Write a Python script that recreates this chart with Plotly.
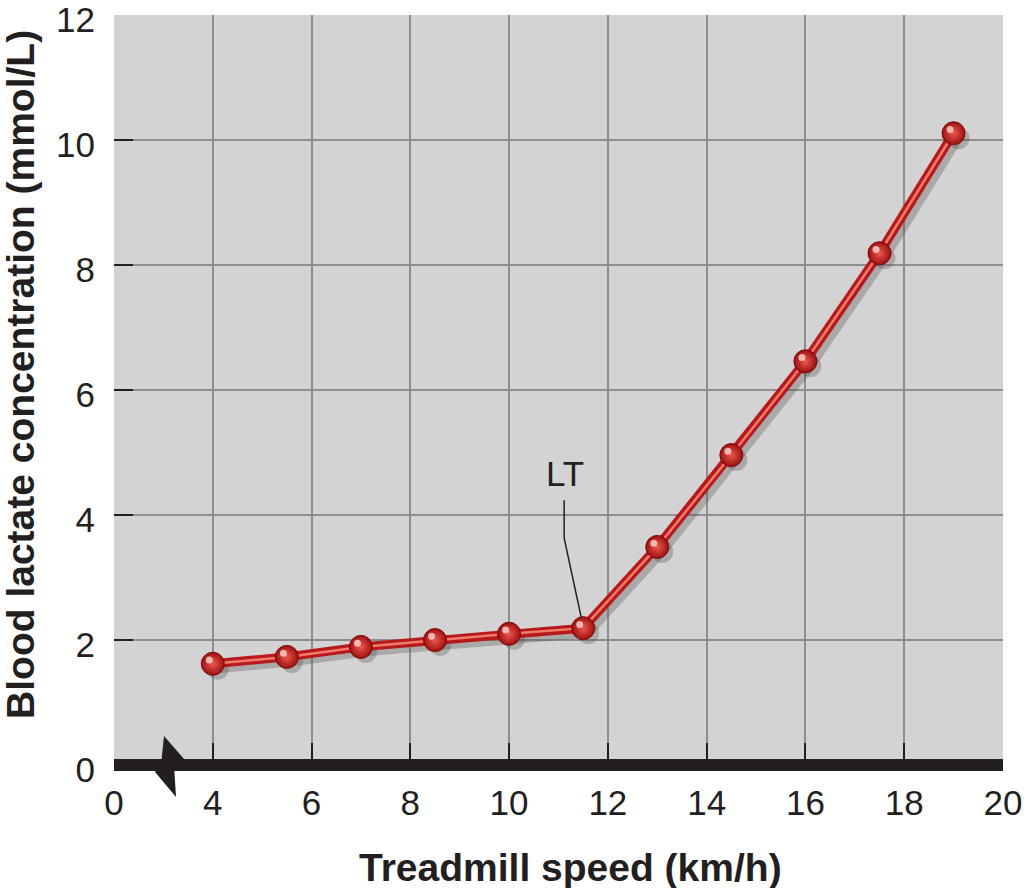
import numpy as np
import plotly.graph_objects as go

# --- data ---
speed = [4, 5.5, 7, 8.5, 10, 11.5, 13, 14.5, 16, 17.5, 19]          # km/h
lactate = [1.62, 1.73, 1.89, 2.0, 2.1, 2.19, 3.49, 4.96, 6.46, 8.19, 10.11]  # mmol/L
x_ticks = [0, 4, 6, 8, 10, 12, 14, 16, 18, 20]
y_ticks = [0, 2, 4, 6, 8, 10, 12]
lt_speed = 11.5
lt_lactate = 2.19


def brk(v):
    # broken x axis: 0..4 squeezed to 0..2, then linear
    v = np.asarray(v, dtype=float)
    return np.where(v >= 4, v - 2, v / 2)


xv = brk(speed)
yv = np.array(lactate)

INK = "#231f20"
FONT = "Liberation Sans, Arial, Helvetica, sans-serif"

fig = go.Figure()

# soft drop shadow (same points nudged right / down)
fig.add_trace(go.Scatter(
    x=xv + 0.1, y=yv - 0.08, mode="lines+markers",
    line=dict(color="rgba(80,80,80,0.32)", width=9),
    marker=dict(size=22, color="rgba(80,80,80,0.32)"),
    hoverinfo="skip"
))
# main red tube
fig.add_trace(go.Scatter(
    x=xv, y=yv, mode="lines",
    line=dict(color="#b8191b", width=9),
    hoverinfo="skip"
))
fig.add_trace(go.Scatter(
    x=xv, y=yv, mode="lines",
    line=dict(color="#f27b6b", width=2.5),
    hoverinfo="skip"
))
# spheres
fig.add_trace(go.Scatter(
    x=xv, y=yv, mode="markers",
    marker=dict(size=23, color="#9e0f10",
                gradient=dict(type="radial", color="#ec5a4e"),
                line=dict(color="#7a0a0b", width=1)),
    name="Blood lactate"
))
# little specular highlight on each sphere
fig.add_trace(go.Scatter(
    x=xv - 0.07, y=yv + 0.06, mode="markers",
    marker=dict(size=7, color="rgba(255,225,220,0.75)", line=dict(width=0)),
    hoverinfo="skip"
))

# LT label + bent leader line
fig.add_annotation(x=brk(lt_speed).item(), y=lt_lactate, text="LT", showarrow=False,
                   xshift=-18, yshift=155, font=dict(family=FONT, size=35, color=INK))
fig.add_shape(type="path", xref="x", yref="y",
              xsizemode="pixel", ysizemode="pixel",
              xanchor=brk(lt_speed).item(), yanchor=lt_lactate,
              path="M-19,128 L-19,90 L-2,11",
              line=dict(color=INK, width=1.5))

# thick baseline and axis-break mark
fig.add_shape(type="rect", xref="paper", yref="paper", ysizemode="pixel",
              x0=0, x1=1, yanchor=0, y0=-6, y1=6,
              fillcolor=INK, line=dict(width=0))
fig.add_shape(type="path", xref="paper", yref="paper",
              xsizemode="pixel", ysizemode="pixel",
              xanchor=0.063, yanchor=0,
              path="M-6,29 L14,6 L4,0 L6,-32 L-15,-7 L-9,0 Z",
              fillcolor=INK, line=dict(width=0))

# axis titles
fig.add_annotation(x=0.513, y=-0.137, xref="paper", yref="paper",
                   xanchor="center", yanchor="middle",
                   text="<b>Treadmill speed (km/h)</b>", showarrow=False,
                   font=dict(family=FONT, size=39, color=INK))
fig.add_annotation(x=-0.105, y=0.521, xref="paper", yref="paper",
                   xanchor="center", yanchor="middle",
                   text="<b>Blood lactate concentration (mmol/L)</b>", showarrow=False,
                   textangle=-90, font=dict(family=FONT, size=39, color=INK))

fig.update_layout(
    width=1024, height=888,
    margin=dict(l=114, r=21, t=15, b=123),
    paper_bgcolor="white",
    plot_bgcolor="#d3d3d4",
    showlegend=False,
    hovermode=False,
    font=dict(family=FONT, size=35, color=INK),
)
fig.update_xaxes(
    range=[0, 18.001], tickvals=brk(x_ticks), ticktext=[str(t) for t in x_ticks],
    ticks="inside", ticklen=22, tickwidth=2, tickcolor=INK,
    showgrid=True, gridcolor="#8e8e8e", gridwidth=2,
    zeroline=False, showline=False, ticklabelstandoff=14,
    tickfont=dict(size=35, color=INK),
    automargin=False, ticklabeloverflow="allow",
)
fig.update_yaxes(
    range=[0, 12.002], tickvals=y_ticks,
    ticks="inside", ticklen=19, tickwidth=2, tickcolor=INK,
    showgrid=True, gridcolor="#8e8e8e", gridwidth=2,
    zeroline=False, showline=False, ticklabelstandoff=18, ticklabelshift=5,
    tickfont=dict(size=35, color=INK),
    automargin=False, ticklabeloverflow="allow",
)

# page body has an 8px default margin; drop it so the figure sits at 0,0
fig.write_html("out.html", config={"displayModeBar": False},
               post_script="document.body.style.margin='0px';")
